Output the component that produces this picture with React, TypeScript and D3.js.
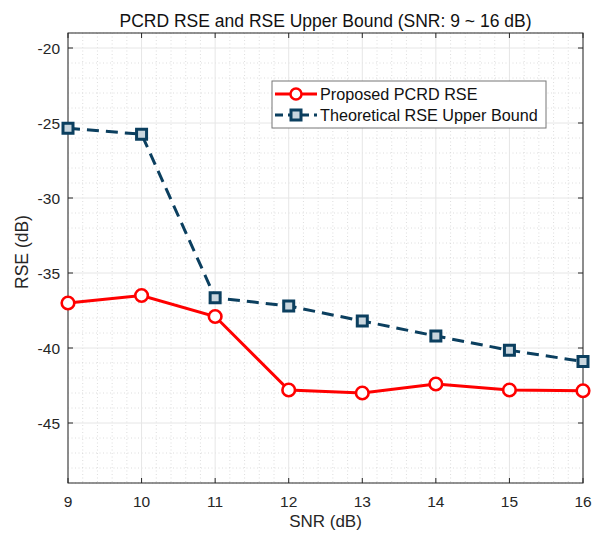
import React from "react";
import * as d3 from "d3";

const snr = [9, 10, 11, 12, 13, 14, 15, 16];
const proposed = [-37.0, -36.5, -37.9, -42.8, -43.0, -42.4, -42.8, -42.85];
const upperBound = [-25.35, -25.75, -36.65, -37.2, -38.2, -39.2, -40.15, -40.9];
const xTicks = [9, 10, 11, 12, 13, 14, 15, 16];
const yTicks = [-20, -25, -30, -35, -40, -45];

const W = 598, H = 534;
const M = { left: 68, right: 583, top: 33, bottom: 483 };
const RED = "#ff0000";
const BLUE = "#0b3f5f";
const FONT = "'Liberation Sans', Arial, Helvetica, sans-serif";

export default function App() {
  const x = d3.scaleLinear().domain([9, 16]).range([M.left, M.right]);
  const y = d3.scaleLinear().domain([-49, -19]).range([M.bottom, M.top]);
  const line = d3.line<number>().x((_, i) => x(snr[i])).y((v) => y(v));
  const xMinor = d3.range(9, 16.001, 0.2).filter((v) => Math.abs(v - Math.round(v)) > 0.01);
  const yMinor = d3.range(-49, -18.999, 1).filter((v) => v % 5 !== 0);
  const tick = 5;
  return (
    <svg width={W} height={H} style={{ position: "absolute", left: 0, top: 0, fontFamily: FONT }}>
      <rect x={0} y={0} width={W} height={H} fill="#fff" />
      {/* minor grid */}
      {xMinor.map((v, i) => (
        <line key={"xm" + i} x1={x(v)} x2={x(v)} y1={M.top} y2={M.bottom} stroke="#d4d4d4" strokeWidth={0.8} strokeDasharray="1,2.5" />
      ))}
      {yMinor.map((v, i) => (
        <line key={"ym" + i} x1={M.left} x2={M.right} y1={y(v)} y2={y(v)} stroke="#d4d4d4" strokeWidth={0.8} strokeDasharray="1,2.5" />
      ))}
      {/* major grid */}
      {xTicks.map((v) => (
        <line key={"xg" + v} x1={x(v)} x2={x(v)} y1={M.top} y2={M.bottom} stroke="#e6e6e6" strokeWidth={1} />
      ))}
      {yTicks.map((v) => (
        <line key={"yg" + v} x1={M.left} x2={M.right} y1={y(v)} y2={y(v)} stroke="#e6e6e6" strokeWidth={1} />
      ))}
      {/* box */}
      <rect x={M.left} y={M.top} width={M.right - M.left} height={M.bottom - M.top} fill="none" stroke="#262626" strokeWidth={1} />
      {/* ticks */}
      {xTicks.map((v) => (
        <g key={"xt" + v}>
          <line x1={x(v)} x2={x(v)} y1={M.bottom} y2={M.bottom - tick} stroke="#262626" />
          <line x1={x(v)} x2={x(v)} y1={M.top} y2={M.top + tick} stroke="#262626" />
          <text x={x(v)} y={M.bottom + 24} textAnchor="middle" fontSize={15.5} fill="#262626">{v}</text>
        </g>
      ))}
      {yTicks.map((v) => (
        <g key={"yt" + v}>
          <line x1={M.left} x2={M.left + tick} y1={y(v)} y2={y(v)} stroke="#262626" />
          <line x1={M.right} x2={M.right - tick} y1={y(v)} y2={y(v)} stroke="#262626" />
          <text x={M.left - 8} y={y(v) + 5.5} textAnchor="end" fontSize={15.5} fill="#262626">{v}</text>
        </g>
      ))}
      {/* labels */}
      <text x={(M.left + M.right) / 2} y={527} textAnchor="middle" fontSize={17} fill="#262626">SNR (dB)</text>
      <text transform={`translate(28,252) rotate(-90)`} textAnchor="middle" fontSize={17.5} fill="#262626">RSE (dB)</text>
      <text x={(M.left + M.right) / 2} y={27} textAnchor="middle" fontSize={17.5} fill="#111">PCRD RSE and RSE Upper Bound (SNR: 9 ~ 16 dB)</text>
      {/* series */}
      <path d={line(upperBound) || ""} fill="none" stroke={BLUE} strokeWidth={3} strokeDasharray="12,7" />
      <path d={line(proposed) || ""} fill="none" stroke={RED} strokeWidth={3} />
      {upperBound.map((v, i) => (
        <rect key={"ub" + i} x={x(snr[i]) - 5} y={y(v) - 5} width={10} height={10} fill="#c9d6de" stroke={BLUE} strokeWidth={3} />
      ))}
      {proposed.map((v, i) => (
        <circle key={"pp" + i} cx={x(snr[i])} cy={y(v)} r={6.3} fill="#fff" stroke={RED} strokeWidth={2.6} />
      ))}
      {/* legend */}
      <g>
        <rect x={272} y={81} width={274} height={47} fill="#fff" stroke="#777" strokeWidth={1} />
        <line x1={275} x2={317} y1={94} y2={94} stroke={RED} strokeWidth={3} />
        <circle cx={296} cy={94} r={5.5} fill="#fff" stroke={RED} strokeWidth={2.5} />
        <text x={320} y={99.5} fontSize={16.2} fill="#111">Proposed PCRD RSE</text>
        <line x1={275} x2={317} y1={115} y2={115} stroke={BLUE} strokeWidth={3} strokeDasharray="8,5" />
        <rect x={291} y={110} width={10} height={10} fill="#c9d6de" stroke={BLUE} strokeWidth={3} />
        <text x={320} y={121} fontSize={16.2} fill="#111">Theoretical RSE Upper Bound</text>
      </g>
    </svg>
  );
}
